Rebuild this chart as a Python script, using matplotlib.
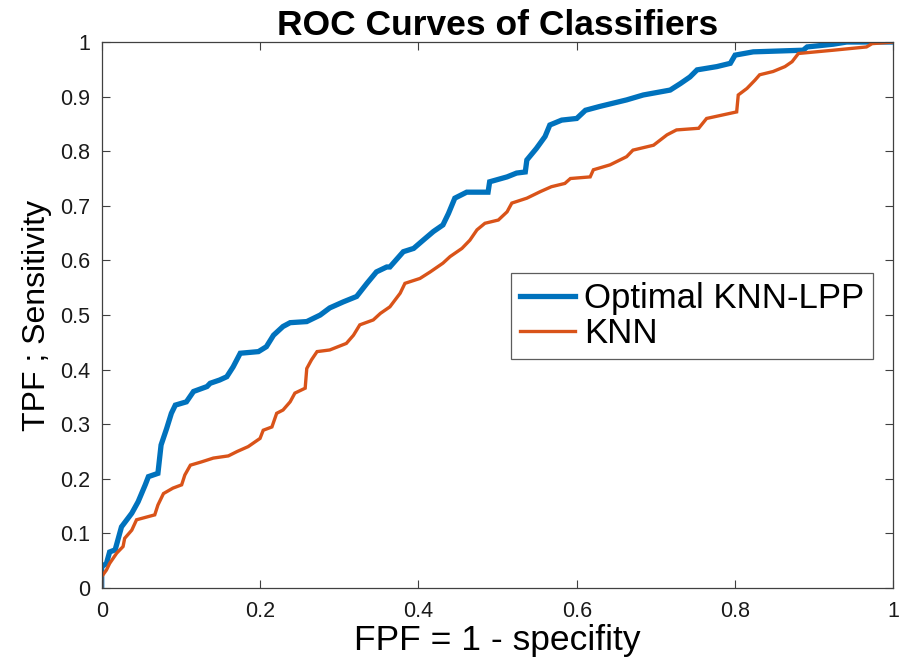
import matplotlib.pyplot as plt

# ---------------------------------------------------------------------------
# Data
# ---------------------------------------------------------------------------

lpp_fpr = [0.000, 0.000, 0.006, 0.010, 0.017, 0.025, 0.038, 0.046, 0.055, 0.059,
           0.071, 0.075, 0.082, 0.088, 0.093, 0.107, 0.116, 0.133, 0.137, 0.149,
           0.158, 0.166, 0.175, 0.198, 0.208, 0.217, 0.229, 0.238, 0.259, 0.276,
           0.288, 0.305, 0.322, 0.335, 0.347, 0.360, 0.364, 0.381, 0.394, 0.406,
           0.419, 0.431, 0.438, 0.446, 0.461, 0.488, 0.490, 0.512, 0.524, 0.535,
           0.537, 0.549, 0.560, 0.566, 0.581, 0.600, 0.611, 0.629, 0.663, 0.684,
           0.718, 0.731, 0.743, 0.752, 0.777, 0.794, 0.800, 0.823, 0.886, 0.891,
           0.924, 0.941, 1.000]
lpp_tpr = [0.000, 0.039, 0.045, 0.066, 0.070, 0.112, 0.137, 0.158, 0.189, 0.204,
           0.210, 0.262, 0.292, 0.320, 0.335, 0.341, 0.360, 0.369, 0.375, 0.381,
           0.387, 0.405, 0.430, 0.433, 0.442, 0.463, 0.479, 0.486, 0.488, 0.500,
           0.513, 0.524, 0.534, 0.558, 0.579, 0.588, 0.588, 0.616, 0.622, 0.637,
           0.653, 0.665, 0.686, 0.714, 0.725, 0.725, 0.744, 0.753, 0.760, 0.762,
           0.784, 0.805, 0.827, 0.848, 0.857, 0.860, 0.875, 0.882, 0.894, 0.903,
           0.912, 0.924, 0.936, 0.949, 0.955, 0.961, 0.976, 0.982, 0.985, 0.991,
           0.996, 1.000, 1.000]

knn_fpr = [0.000, 0.000, 0.006, 0.010, 0.019, 0.027, 0.029, 0.038, 0.044, 0.067,
           0.071, 0.078, 0.090, 0.101, 0.105, 0.112, 0.126, 0.141, 0.160, 0.171,
           0.185, 0.200, 0.204, 0.215, 0.221, 0.229, 0.238, 0.244, 0.257, 0.259,
           0.265, 0.272, 0.288, 0.309, 0.318, 0.326, 0.343, 0.352, 0.364, 0.377,
           0.383, 0.402, 0.415, 0.431, 0.440, 0.455, 0.465, 0.474, 0.484, 0.501,
           0.512, 0.518, 0.537, 0.554, 0.568, 0.585, 0.592, 0.617, 0.621, 0.642,
           0.663, 0.671, 0.697, 0.714, 0.726, 0.754, 0.764, 0.783, 0.802, 0.804,
           0.815, 0.825, 0.831, 0.848, 0.863, 0.872, 0.880, 0.924, 0.966, 0.973,
           1.000]
knn_tpr = [0.000, 0.021, 0.033, 0.045, 0.064, 0.076, 0.091, 0.106, 0.125, 0.134,
           0.152, 0.173, 0.183, 0.189, 0.207, 0.225, 0.231, 0.238, 0.242, 0.250,
           0.259, 0.274, 0.289, 0.295, 0.320, 0.326, 0.341, 0.357, 0.366, 0.402,
           0.418, 0.433, 0.436, 0.448, 0.463, 0.482, 0.491, 0.503, 0.515, 0.540,
           0.558, 0.567, 0.579, 0.595, 0.607, 0.622, 0.637, 0.656, 0.668, 0.674,
           0.689, 0.705, 0.714, 0.726, 0.735, 0.741, 0.750, 0.753, 0.766, 0.775,
           0.790, 0.802, 0.811, 0.830, 0.839, 0.842, 0.860, 0.866, 0.872, 0.903,
           0.915, 0.930, 0.940, 0.946, 0.955, 0.964, 0.979, 0.985, 0.991, 0.997,
           1.000]

x_ticks = [0, 0.2, 0.4, 0.6, 0.8, 1]
x_ticklabels = ["0", "0.2", "0.4", "0.6", "0.8", "1"]
y_ticks = [0, 0.1, 0.2, 0.3, 0.4, 0.5, 0.6, 0.7, 0.8, 0.9, 1]
y_ticklabels = ["0", "0.1", "0.2", "0.3", "0.4", "0.5", "0.6", "0.7", "0.8", "0.9", "1"]

BLUE = "#0072BD"
RED = "#D95319"
AXIS_GREY = "#404040"

plt.rcParams["font.family"] = ["Liberation Sans", "DejaVu Sans"]

# ---------------------------------------------------------------------------
# Plot
# ---------------------------------------------------------------------------

fig = plt.figure(figsize=(9, 6.67), dpi=100)
ax = fig.add_axes([0.113, 0.1184, 0.8797, 0.8186])

ax.plot(lpp_fpr, lpp_tpr, color=BLUE, linewidth=3.8, label="Optimal KNN-LPP",
        solid_joinstyle="miter")
ax.plot(knn_fpr, knn_tpr, color=RED, linewidth=2.4, label="KNN",
        solid_joinstyle="miter")

ax.set_xlim(0, 1)
ax.set_ylim(0, 1)
ax.set_xticks(x_ticks)
ax.set_xticklabels(x_ticklabels)
ax.set_yticks(y_ticks)
ax.set_yticklabels(y_ticklabels)

ax.tick_params(direction="in", length=6, width=0.8, colors=AXIS_GREY,
               labelcolor="#1a1a1a", labelsize=15.5, top=True, right=True)
ax.tick_params(axis="x", pad=9)
ax.tick_params(axis="y", pad=8)
for side in ax.spines.values():
    side.set_color(AXIS_GREY)
    side.set_linewidth(0.9)

ax.set_title("ROC Curves of Classifiers", fontsize=25.5, fontweight="bold", pad=5)
ax.set_xlabel("FPF = 1 - specifity", fontsize=25.5, labelpad=2)
ax.set_ylabel("TPF ; Sensitivity", fontsize=23, labelpad=6)

leg = ax.legend(loc="upper left", bbox_to_anchor=(0.517, 0.577), fontsize=25,
                frameon=True, fancybox=False, handlelength=1.6,
                handletextpad=0.25, borderpad=0.25, labelspacing=0.08,
                borderaxespad=0)
leg.get_frame().set_edgecolor("#333333")
leg.get_frame().set_linewidth(0.9)

plt.savefig("out.png", dpi=100)
